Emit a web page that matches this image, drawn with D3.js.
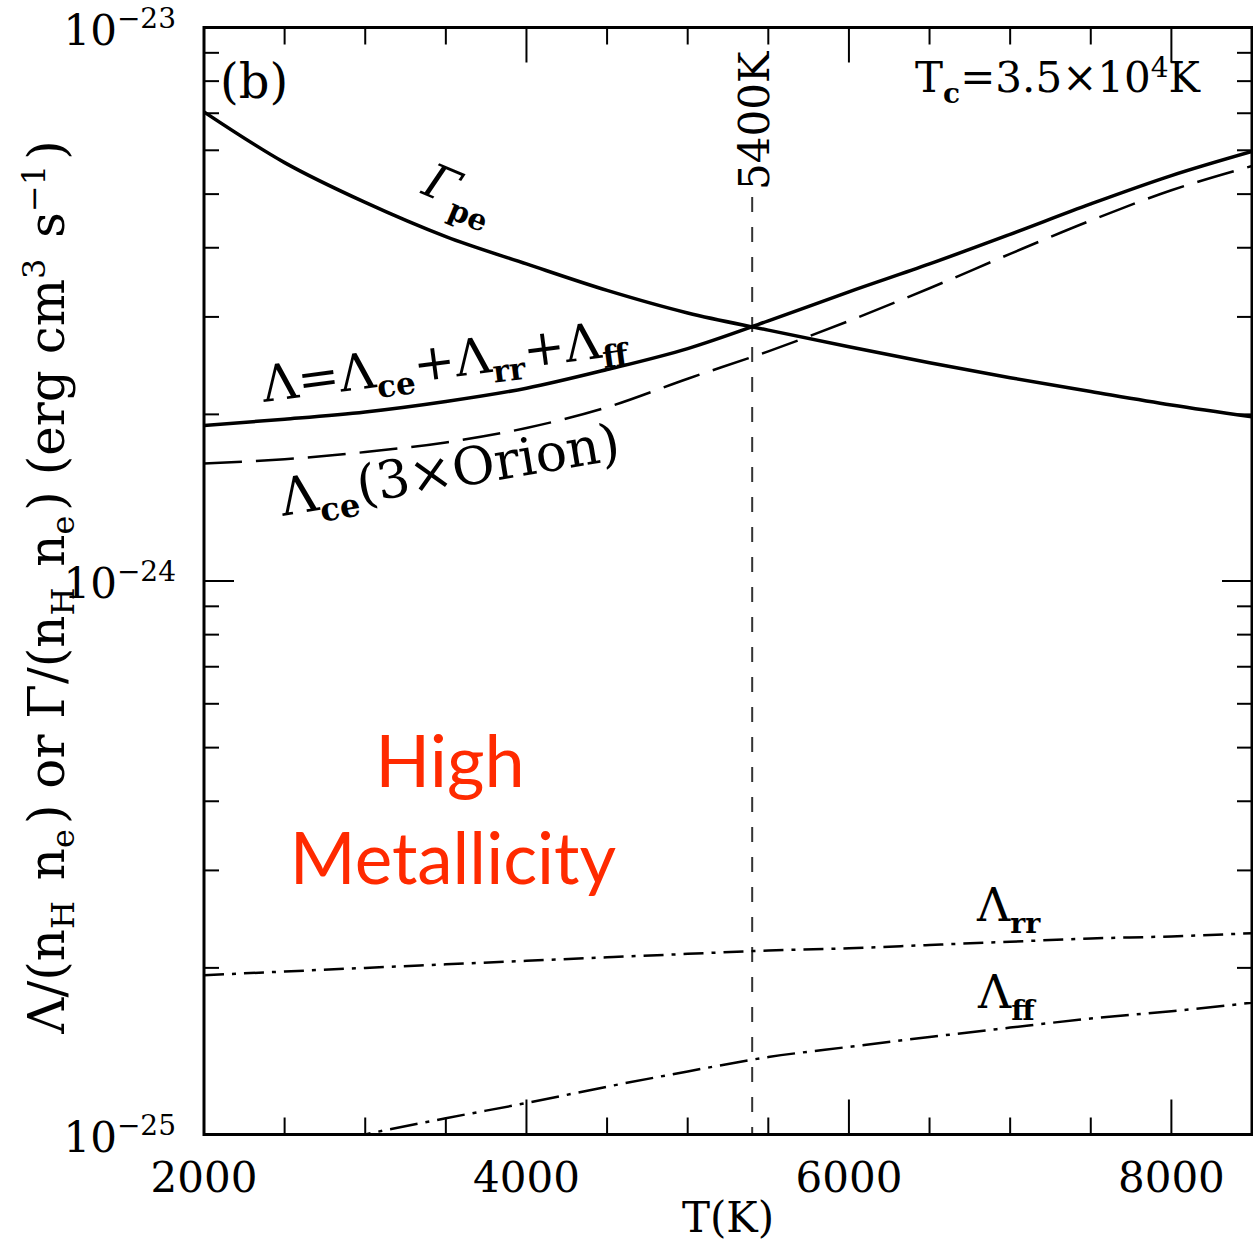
<!DOCTYPE html>
<html>
<head>
<meta charset="utf-8">
<script src="https://cdn.jsdelivr.net/npm/d3@7"></script>
<style>
  body { margin: 0; background: #fff; }
  text { font-family: "DejaVu Serif", serif; fill: #000; }
</style>
</head>
<body>
<script>
// temperatures (K) where curves were read
const temps = [2000, 2500, 3000, 3500, 4000, 4500, 5000, 5500, 6000, 6500, 7000, 7500, 8000, 8500];

// values in units of 1e-24 / 1e-25 erg cm^3 s^-1
const gammaPe  = [7.04, 5.70, 4.83, 4.19, 3.74, 3.35, 3.05, 2.84, 2.65, 2.48, 2.33, 2.20, 2.08, 1.98];   // 1e-24
const lamTotal = [1.91, 1.96, 2.02, 2.11, 2.23, 2.41, 2.63, 2.95, 3.33, 3.74, 4.23, 4.80, 5.40, 5.97];   // 1e-24
const lamCe    = [1.63, 1.66, 1.71, 1.78, 1.89, 2.06, 2.32, 2.60, 2.95, 3.38, 3.90, 4.48, 5.08, 5.62];   // 1e-24
const lamRr    = [1.94, 1.97, 2.00, 2.03, 2.06, 2.09, 2.12, 2.15, 2.17, 2.20, 2.23, 2.26, 2.28, 2.31];   // 1e-25
const lamFf    = [0.84, 0.92, 1.00, 1.07, 1.14, 1.22, 1.30, 1.38, 1.44, 1.50, 1.56, 1.62, 1.67, 1.73];   // 1e-25

const xMajor = [2000, 4000, 6000, 8000];
const yMajor = [-23, -24, -25];
const tLine = 5400;

const width = 1253, height = 1247;
const mLeft = 204, mRight = 1252, mTop = 27.5, mBottom = 1134.5;

const svg = d3.select("body").append("svg")
  .attr("width", width)
  .attr("height", height);

const x = d3.scaleLinear().domain([2000, 8500]).range([mLeft, mRight]);
const y = d3.scaleLog().domain([1e-25, 1e-23]).range([mBottom, mTop]);

svg.append("clipPath").attr("id", "clip")
  .append("rect")
  .attr("x", mLeft).attr("y", mTop)
  .attr("width", mRight - mLeft).attr("height", mBottom - mTop);

const plot = svg.append("g").attr("clip-path", "url(#clip)");

function series(vals, scale) {
  return temps.map((t, i) => [t, vals[i] * scale]);
}

const line = d3.line()
  .x(d => x(d[0]))
  .y(d => y(d[1]))
  .curve(d3.curveMonotoneX);

// vertical marker
plot.append("line")
  .attr("x1", x(tLine)).attr("x2", x(tLine))
  .attr("y1", 197).attr("y2", mBottom)
  .attr("stroke", "#333").attr("stroke-width", 2)
  .attr("stroke-dasharray", "15,15");

const curves = [
  { data: series(gammaPe, 1e-24), w: 3.5, dash: null },
  { data: series(lamTotal, 1e-24), w: 3.5, dash: null },
  { data: series(lamCe, 1e-24), w: 2.5, dash: "38,14" },
  { data: series(lamRr, 1e-25), w: 2.5, dash: "20,8,4,8" },
  { data: series(lamFf, 1e-25), w: 2.5, dash: "28,8,4,8" }
];

curves.forEach(c => {
  plot.append("path")
    .attr("d", line(c.data))
    .attr("fill", "none")
    .attr("stroke", "#000")
    .attr("stroke-width", c.w)
    .attr("stroke-dasharray", c.dash);
});

// frame
svg.append("rect")
  .attr("x", mLeft).attr("y", mTop)
  .attr("width", mRight - mLeft).attr("height", mBottom - mTop)
  .attr("fill", "none").attr("stroke", "#000").attr("stroke-width", 3);

// x ticks (bottom and top)
const ticks = svg.append("g").attr("stroke", "#000").attr("stroke-width", 2);
d3.range(2500, 8500, 500).forEach(t => {
  const len = xMajor.includes(t) ? 35 : 17;
  ticks.append("line").attr("x1", x(t)).attr("x2", x(t)).attr("y1", mBottom).attr("y2", mBottom - len);
  ticks.append("line").attr("x1", x(t)).attr("x2", x(t)).attr("y1", mTop).attr("y2", mTop + len);
});

// y ticks (left and right)
[-25, -24].forEach(e => {
  d3.range(1, 10).forEach(m => {
    const v = m * Math.pow(10, e);
    if (m === 1 && e === -25) return;
    const len = m === 1 ? 30 : 15;
    ticks.append("line").attr("x1", mLeft).attr("x2", mLeft + len).attr("y1", y(v)).attr("y2", y(v));
    ticks.append("line").attr("x1", mRight).attr("x2", mRight - len).attr("y1", y(v)).attr("y2", y(v));
  });
});

// x tick labels
xMajor.forEach(t => {
  svg.append("text")
    .attr("x", x(t)).attr("y", 1192)
    .attr("text-anchor", "middle")
    .attr("font-size", 42)
    .text(t);
});

// y tick labels
yMajor.forEach(e => {
  const t = svg.append("text")
    .attr("x", 176).attr("y", y(Math.pow(10, e)) + 17)
    .attr("text-anchor", "end")
    .attr("font-size", 42);
  t.append("tspan").text("10");
  t.append("tspan").attr("font-size", 28).attr("dy", -17).text("\u2212" + (-e));
});

// axis titles
svg.append("text")
  .attr("x", 728).attr("y", 1232)
  .attr("text-anchor", "middle")
  .attr("font-size", 42)
  .text("T(K)");

const yl = svg.append("text")
  .attr("transform", "translate(64,587) rotate(-90)")
  .attr("text-anchor", "middle")
  .attr("font-size", 50);
function sub(sel, s) {
  sel.append("tspan").attr("font-size", 32).attr("dy", 10).text(s);
  sel.append("tspan").attr("dy", -10).text("\u200a");
}
function sup(sel, s) {
  sel.append("tspan").attr("font-size", 32).attr("dy", -19).text(s);
  sel.append("tspan").attr("dy", 19).text("\u200a");
}
yl.append("tspan").text("\u039b/(n");
sub(yl, "H");
yl.append("tspan").text(" n");
sub(yl, "e");
yl.append("tspan").text(") or \u0393/(n");
sub(yl, "H");
yl.append("tspan").text(" n");
sub(yl, "e");
yl.append("tspan").text(") (erg cm");
sup(yl, "3");
yl.append("tspan").text(" s");
sup(yl, "\u22121");
yl.append("tspan").text(")");

// panel labels
svg.append("text").attr("x", 220).attr("y", 98).attr("font-size", 48).text("(b)");

const tc = svg.append("text").attr("x", 1200).attr("y", 92)
  .attr("text-anchor", "end").attr("font-size", 42);
tc.append("tspan").text("T");
tc.append("tspan").attr("font-size", 28).attr("font-weight", "bold").attr("dy", 11).text("c");
tc.append("tspan").attr("dy", -11).text("=3.5\u00d710");
tc.append("tspan").attr("font-size", 28).attr("dy", -15).text("4");
tc.append("tspan").attr("dy", 15).text("K");

svg.append("text")
  .attr("transform", `translate(${x(tLine) + 17},190) rotate(-90)`)
  .attr("font-size", 42)
  .text("5400K");

// curve labels
function curveLabel(px, py, rot, size, parts) {
  const t = svg.append("text")
    .attr("transform", `translate(${px},${py}) rotate(${rot})`)
    .attr("font-size", size);
  parts.forEach(p => {
    const s = t.append("tspan").text(p.s);
    if (p.sub) s.attr("font-size", size * 0.62).attr("font-weight", "bold").attr("dy", p.dy);
    else if (p.dy) s.attr("dy", p.dy);
    if (p.italic) s.attr("font-style", "italic");
  });
}

curveLabel(420, 193, 23, 48, [
  { s: "\u0393", italic: true },
  { s: "pe", sub: true, dy: 12 }
]);

curveLabel(264, 402, -7.5, 50, [
  { s: "\u039b=\u039b" },
  { s: "ce", sub: true, dy: 11 },
  { s: "+\u039b", dy: -11 },
  { s: "rr", sub: true, dy: 11 },
  { s: "+\u039b", dy: -11 },
  { s: "ff", sub: true, dy: 11 }
]);

curveLabel(283, 516, -9.5, 52, [
  { s: "\u039b" },
  { s: "ce", sub: true, dy: 12 },
  { s: "(3\u00d7Orion)", dy: -12 }
]);

curveLabel(977, 921, 0, 46, [
  { s: "\u039b" },
  { s: "rr", sub: true, dy: 12 }
]);

curveLabel(978, 1008, 0, 46, [
  { s: "\u039b" },
  { s: "ff", sub: true, dy: 12 }
]);

// annotation
const hm = svg.append("g");
hm.append("text").attr("x", 450).attr("y", 787)
  .attr("text-anchor", "middle")
  .style("font-family", "Lato, sans-serif").style("fill", "#ff2a00")
  .attr("font-size", 72).text("High");
hm.append("text").attr("x", 453).attr("y", 884)
  .attr("text-anchor", "middle")
  .style("font-family", "Lato, sans-serif").style("fill", "#ff2a00")
  .attr("font-size", 71).text("Metallicity");
</script>
</body>
</html>
